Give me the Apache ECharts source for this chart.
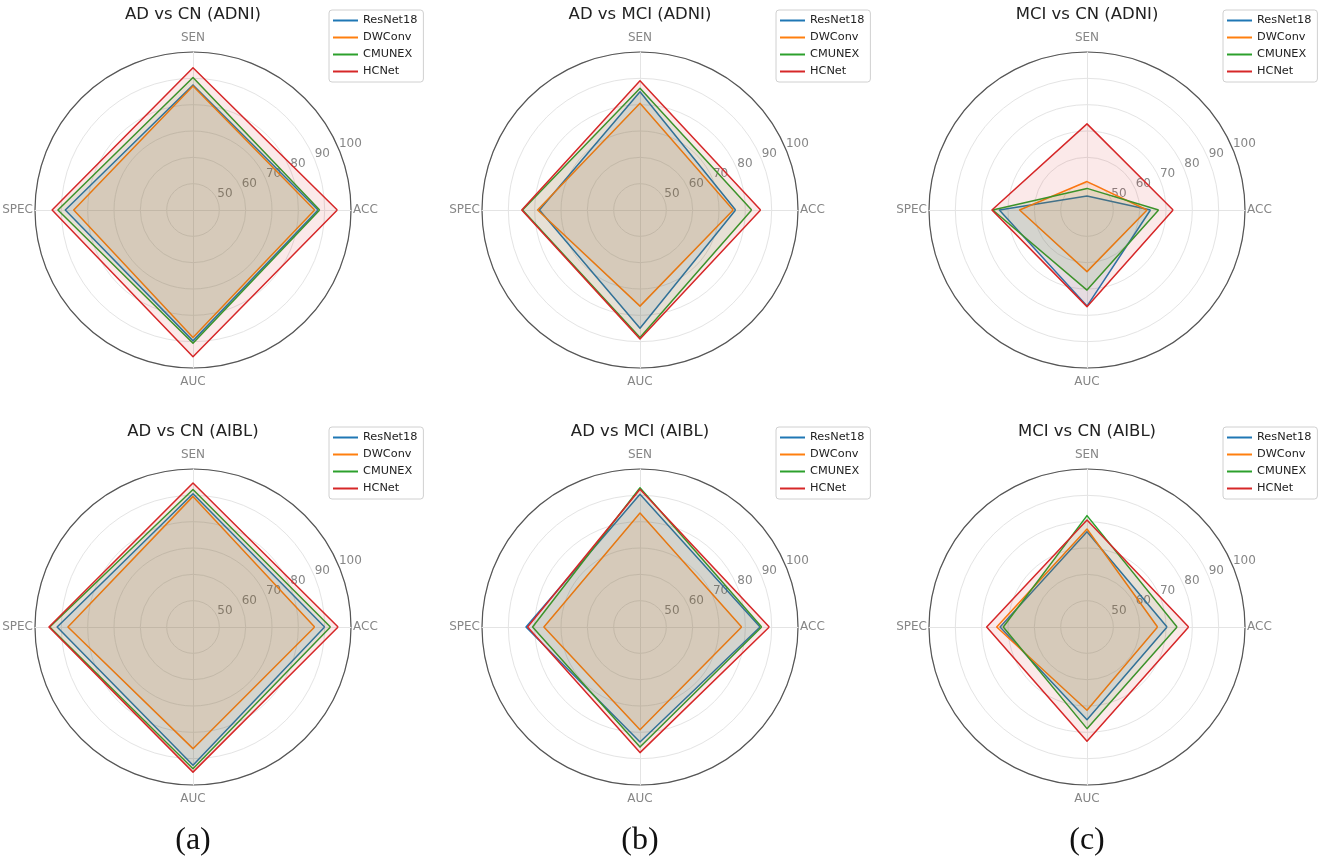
<!DOCTYPE html>
<html><head><meta charset="utf-8">
<script src="https://cdn.jsdelivr.net/npm/echarts@6/dist/echarts.min.js"></script>
<style>html,body{margin:0;padding:0;background:#fff}#c{width:1325px;height:862px}</style>
</head><body><div id="c"></div>
<script>
// Indicator order (counter-clockwise from the right): ACC, SEN, SPEC, AUC
const indicators = ['ACC', 'SEN', 'SPEC', 'AUC'];
const models = ['ResNet18', 'DWConv', 'CMUNEX', 'HCNet'];
const panelTitles = ['AD vs CN (ADNI)', 'AD vs MCI (ADNI)', 'MCI vs CN (ADNI)',
                     'AD vs CN (AIBL)', 'AD vs MCI (AIBL)', 'MCI vs CN (AIBL)'];
const subLabels = ['(a)', '(b)', '(c)'];
const radialTicks = [50, 60, 70, 80, 90, 100];
const radialMin = 40;
const radialMax = 100;

// values per model (rows: ResNet18, DWConv, CMUNEX, HCNet), columns: ACC, SEN, SPEC, AUC
const adCnAdni = [
  [87.5, 87.5, 88.5, 89.7],
  [86.2, 87.1, 85.3, 88.4],
  [88.1, 90.3, 91.3, 90.6],
  [94.8, 94.0, 93.5, 95.7]
];
const adMciAdni = [
  [76.3, 84.9, 78.2, 84.9],
  [75.4, 80.5, 78.9, 76.5],
  [82.4, 86.2, 84.6, 88.4],
  [85.8, 89.1, 84.9, 89.0]
];
const mciCnAdni = [
  [64.1, 45.3, 73.3, 76.5],
  [62.8, 50.8, 65.6, 63.4],
  [67.2, 48.2, 75.8, 70.4],
  [72.7, 72.7, 76.1, 76.7]
];
const adCnAibl = [
  [90.0, 90.6, 91.6, 92.5],
  [86.2, 89.6, 87.5, 86.2],
  [92.2, 92.2, 94.4, 93.8],
  [95.1, 94.7, 94.7, 95.1]
];
const adMciAibl = [
  [85.6, 90.4, 83.3, 83.7],
  [78.6, 83.3, 76.5, 79.0],
  [86.2, 92.9, 80.8, 85.6],
  [89.1, 92.3, 82.7, 87.7]
];
const mciCnAibl = [
  [70.4, 76.2, 73.0, 75.2],
  [66.8, 77.2, 74.3, 71.6],
  [74.2, 82.3, 71.8, 78.6],
  [78.6, 80.6, 78.1, 83.4]
];

const panels = [adCnAdni, adMciAdni, mciCnAdni, adCnAibl, adMciAibl, mciCnAibl];
const colors = ['#1f77b4', '#ff7f0e', '#2ca02c', '#d62728'];

const centers = [[193, 210], [640, 210], [1087, 210], [193, 627], [640, 627], [1087, 627]];
const R = 158;
const legendPos = [[329, 10], [776, 10], [1223, 10], [329, 427], [776, 427], [1223, 427]];
const titleTop = [6, 6, 6, 423, 423, 423];
const FONT = 'DejaVu Sans';

const option = {
  backgroundColor: '#fff',
  animation: false,
  title: [],
  legend: [],
  radar: [],
  polar: [],
  angleAxis: [],
  radiusAxis: [],
  series: []
};

panels.forEach((pd, p) => {
  const [cx, cy] = centers[p];
  option.title.push({
    text: panelTitles[p], left: cx, top: titleTop[p], textAlign: 'center', padding: 0,
    textStyle: { fontSize: 16.5, fontWeight: 'normal', color: '#222', fontFamily: FONT }
  });
  option.legend.push({
    data: models.map((n, i) => ({ name: n, itemStyle: { color: colors[i] } })),
    orient: 'vertical', left: legendPos[p][0], top: legendPos[p][1],
    icon: 'rect', itemWidth: 25, itemHeight: 2, itemGap: 4, itemTextGap: 7,
    borderColor: '#d0d0d0', borderWidth: 1, borderRadius: 3, padding: [4, 6, 4, 4],
    backgroundColor: '#fff',
    textStyle: { fontSize: 11.3, color: '#222', fontFamily: FONT, lineHeight: 13 }
  });
  option.radar.push({
    center: [cx, cy], radius: R, startAngle: 0, shape: 'circle',
    splitNumber: radialTicks.length,
    indicator: indicators.map(n => ({ name: n, min: radialMin, max: radialMax })),
    axisName: {
      color: '#868686', fontSize: 12, fontFamily: FONT,
      formatter: n => (n === 'SEN' || n === 'AUC') ? '{v|' + n + '}' : '{h|' + n + '}',
      rich: {
        v: { color: '#868686', fontSize: 12, fontFamily: FONT, padding: [6, 0, 6, 0] },
        h: { color: '#868686', fontSize: 12, fontFamily: FONT }
      }
    },
    nameGap: 2,
    splitLine: { lineStyle: { color: '#e4e4e4', width: 1 } },
    splitArea: { show: false },
    axisLine: { lineStyle: { color: '#e4e4e4', width: 1 } },
    axisTick: { show: false },
    axisLabel: { show: false }
  });
  option.polar.push({ center: [cx, cy], radius: R });
  option.angleAxis.push({
    polarIndex: p, type: 'value', min: 0, max: 360, startAngle: 22.5,
    axisLine: { lineStyle: { color: '#555', width: 1.2 } },
    axisTick: { show: false }, axisLabel: { show: false }, splitLine: { show: false }
  });
  option.radiusAxis.push({
    polarIndex: p, type: 'value', min: radialMin, max: radialMax, interval: 10,
    axisLine: { show: false }, axisTick: { show: false }, splitLine: { show: false },
    axisLabel: {
      showMinLabel: false, color: '#868686', fontSize: 12, fontFamily: FONT,
      margin: 0, align: 'left', verticalAlign: 'bottom',
      formatter: v => (radialTicks.indexOf(v) >= 0 ? String(v) : '')
    }
  });
  pd.forEach((vals, m) => {
    option.series.push({
      type: 'radar', radarIndex: p, name: models[m], symbol: 'none', z: 2 + m,
      lineStyle: { color: colors[m], width: 1.5 },
      itemStyle: { color: colors[m] },
      areaStyle: { color: colors[m], opacity: 0.1 },
      data: [{ value: vals, name: models[m] }]
    });
  });
});

subLabels.forEach((t, i) => {
  option.title.push({
    text: t, left: centers[i][0], top: 825, textAlign: 'center', padding: 0,
    textStyle: { fontSize: 32, fontWeight: 'normal', color: '#111', fontFamily: 'Liberation Serif' }
  });
});

const chart = echarts.init(document.getElementById('c'), null, { renderer: 'canvas' });
chart.setOption(option);
</script></body></html>
